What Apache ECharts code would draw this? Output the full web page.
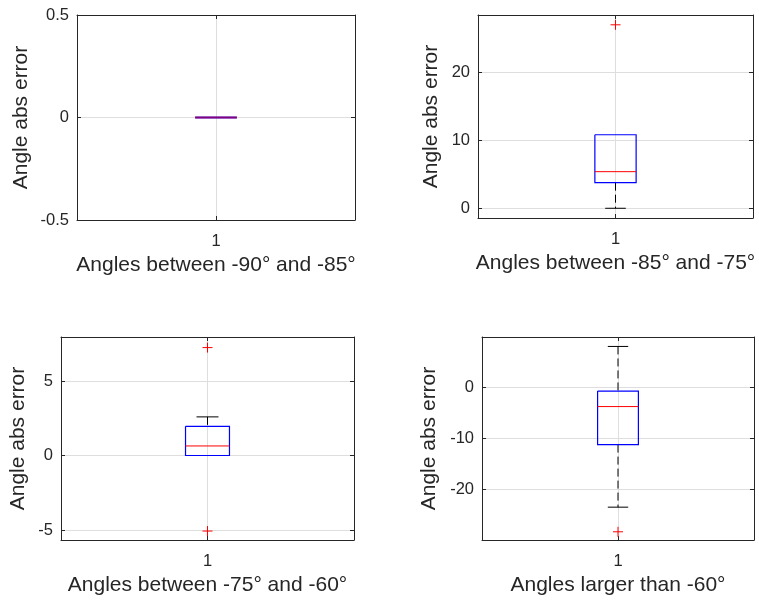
<!DOCTYPE html>
<html>
<head>
<meta charset="utf-8">
<title>Angle abs error</title>
<script src="https://cdn.jsdelivr.net/npm/echarts@6/dist/echarts.min.js"></script>
<style>
  html, body { margin: 0; padding: 0; background: #fff; }
  #main { width: 759px; height: 603px; }
</style>
</head>
<body>
<div id="main"></div>
<script>
// labels
const xLabels = [
  "Angles between -90° and -85°",
  "Angles between -85° and -75°",
  "Angles between -75° and -60°",
  "Angles larger than -60°"
];
const yLabel = "Angle abs error";

// box stats: [lower whisker, q1, median, q3, upper whisker]
const boxStats1 = [0, 0, 0, 0, 0];
const boxStats2 = [0, 3.76, 5.38, 10.8, 10.8];
const boxStats3 = [0, 0, 0.64, 1.96, 2.59];
const boxStats4 = [-23.4, -11.2, -3.79, -0.78, 7.93];

// outliers ("+" marks)
const outliers1 = [];
const outliers2 = [26.96];
const outliers3 = [7.24, -5.07];
const outliers4 = [-28.2];

// axis limits and ticks
const yLimits = [[-0.5, 0.5], [-1.43, 28.4], [-5.67, 7.95], [-29.8, 9.77]];
const yTicks = [[-0.5, 0, 0.5], [0, 10, 20], [-5, 0, 5], [-20, -10, 0]];
const xTicks = [1];
const xLimits = [0.5, 1.5];

const boxStats = [boxStats1, boxStats2, boxStats3, boxStats4];
const outliers = [outliers1, outliers2, outliers3, outliers4];

// layout of the 4 panels
const grids = [
  { left: 77, top: 15, width: 278, height: 205 },
  { left: 478, top: 15, width: 275, height: 203 },
  { left: 61, top: 337, width: 293, height: 203 },
  { left: 482, top: 337, width: 272, height: 203 }
];
const yNameGaps = [45, 36, 32, 42];

const TEXT = "#262626";
const AXIS = "#262626";
const GRIDLINE = "#dedede";
const BOX_HALF = 0.075;
const CAP_HALF = 0.0375;

function renderBox(params, api) {
  const x = api.value(0);
  const vLo = api.value(1), vQ1 = api.value(2), vQ3 = api.value(4), vHi = api.value(5);
  const lo = api.coord([x, vLo]);
  const q1 = api.coord([x, vQ1]);
  const med = api.coord([x, api.value(3)]);
  const q3 = api.coord([x, vQ3]);
  const hi = api.coord([x, vHi]);
  const bw = api.size([BOX_HALF, 0])[0];
  const cw = api.size([CAP_HALF, 0])[0];
  const cx = lo[0];
  const whisker = { stroke: "#000", lineWidth: 1, lineDash: [8, 4] };
  const cap = { stroke: "#000", lineWidth: 1 };
  const flat = vQ1 === vQ3;
  const children = [];
  // whiskers and caps are hidden under the box when they coincide with it
  if (vHi > vQ3) {
    children.push({ type: "line", shape: { x1: cx, y1: hi[1], x2: cx, y2: q3[1] }, style: whisker });
    children.push({ type: "line", shape: { x1: cx - cw, y1: hi[1], x2: cx + cw, y2: hi[1] }, style: cap });
  }
  if (vLo < vQ1) {
    children.push({ type: "line", shape: { x1: cx, y1: q1[1], x2: cx, y2: lo[1] }, style: whisker });
    children.push({ type: "line", shape: { x1: cx - cw, y1: lo[1], x2: cx + cw, y2: lo[1] }, style: cap });
  }
  children.push({
    type: "polyline",
    shape: { points: [[cx - bw, q3[1]], [cx + bw, q3[1]], [cx + bw, q1[1]], [cx - bw, q1[1]], [cx - bw, q3[1]]] },
    style: { fill: "none", stroke: "#0000ff", lineWidth: flat ? 2 : 1.2 }
  });
  children.push({
    type: "line",
    shape: { x1: cx - bw, y1: med[1], x2: cx + bw, y2: med[1] },
    style: { stroke: "#ff0000", lineWidth: flat ? 2 : 1, opacity: flat ? 0.5 : 1 }
  });
  return { type: "group", children: children };
}

function renderPlus(params, api) {
  const p = api.coord([api.value(0), api.value(1)]);
  const s = 5;
  const style = { stroke: "#ff0000", lineWidth: 1 };
  return {
    type: "group",
    children: [
      { type: "line", shape: { x1: p[0] - s, y1: p[1], x2: p[0] + s, y2: p[1] }, style: style },
      { type: "line", shape: { x1: p[0], y1: p[1] - s, x2: p[0], y2: p[1] + s }, style: style }
    ]
  };
}

const grid = [];
const xAxis = [];
const yAxis = [];
const series = [];

for (let i = 0; i < 4; i++) {
  grid.push(Object.assign({ containLabel: false }, grids[i]));

  // bottom x axis
  xAxis.push({
    type: "value",
    gridIndex: i,
    min: xLimits[0],
    max: xLimits[1],
    name: xLabels[i],
    nameLocation: "middle",
    nameGap: 35,
    nameTextStyle: { color: TEXT, fontSize: 21, fontFamily: "Liberation Sans" },
    axisLine: { show: true, onZero: false, lineStyle: { color: AXIS, width: 1 } },
    axisTick: { show: true, inside: true, length: 4, customValues: xTicks, lineStyle: { color: AXIS } },
    axisLabel: { customValues: xTicks, color: TEXT, fontSize: 16.5, fontFamily: "Liberation Sans", margin: 13 },
    splitLine: { show: true, lineStyle: { color: GRIDLINE, width: 1 } }
  });
  // top x axis (frame + ticks)
  xAxis.push({
    type: "value",
    gridIndex: i,
    position: "top",
    min: xLimits[0],
    max: xLimits[1],
    axisLine: { show: true, onZero: false, lineStyle: { color: AXIS, width: 1 } },
    axisTick: { show: true, inside: true, length: 4, customValues: xTicks, lineStyle: { color: AXIS } },
    axisLabel: { show: false },
    splitLine: { show: false }
  });
  // left y axis
  yAxis.push({
    type: "value",
    gridIndex: i,
    min: yLimits[i][0],
    max: yLimits[i][1],
    name: yLabel,
    nameLocation: "middle",
    nameRotate: 90,
    nameGap: yNameGaps[i],
    nameTextStyle: { color: TEXT, fontSize: 21, fontFamily: "Liberation Sans" },
    axisLine: { show: true, onZero: false, lineStyle: { color: AXIS, width: 1 } },
    axisTick: { show: true, inside: true, length: 4, customValues: yTicks[i], lineStyle: { color: AXIS } },
    axisLabel: { customValues: yTicks[i], color: TEXT, fontSize: 16.5, fontFamily: "Liberation Sans", margin: 8 },
    splitLine: { show: true, lineStyle: { color: GRIDLINE, width: 1 } }
  });
  // right y axis (frame + ticks)
  yAxis.push({
    type: "value",
    gridIndex: i,
    position: "right",
    min: yLimits[i][0],
    max: yLimits[i][1],
    axisLine: { show: true, onZero: false, lineStyle: { color: AXIS, width: 1 } },
    axisTick: { show: true, inside: true, length: 4, customValues: yTicks[i], lineStyle: { color: AXIS } },
    axisLabel: { show: false },
    splitLine: { show: false }
  });

  series.push({
    type: "custom",
    xAxisIndex: i * 2,
    yAxisIndex: i * 2,
    renderItem: renderBox,
    data: [[xTicks[0]].concat(boxStats[i])],
    z: 3
  });
  series.push({
    type: "custom",
    xAxisIndex: i * 2,
    yAxisIndex: i * 2,
    renderItem: renderPlus,
    data: outliers[i].map(function (v) { return [xTicks[0], v]; }),
    z: 4
  });
}

const chart = echarts.init(document.getElementById("main"), null, { renderer: "canvas" });
chart.setOption({
  animation: false,
  backgroundColor: "#fff",
  grid: grid,
  xAxis: xAxis,
  yAxis: yAxis,
  series: series
});
</script>
</body>
</html>
